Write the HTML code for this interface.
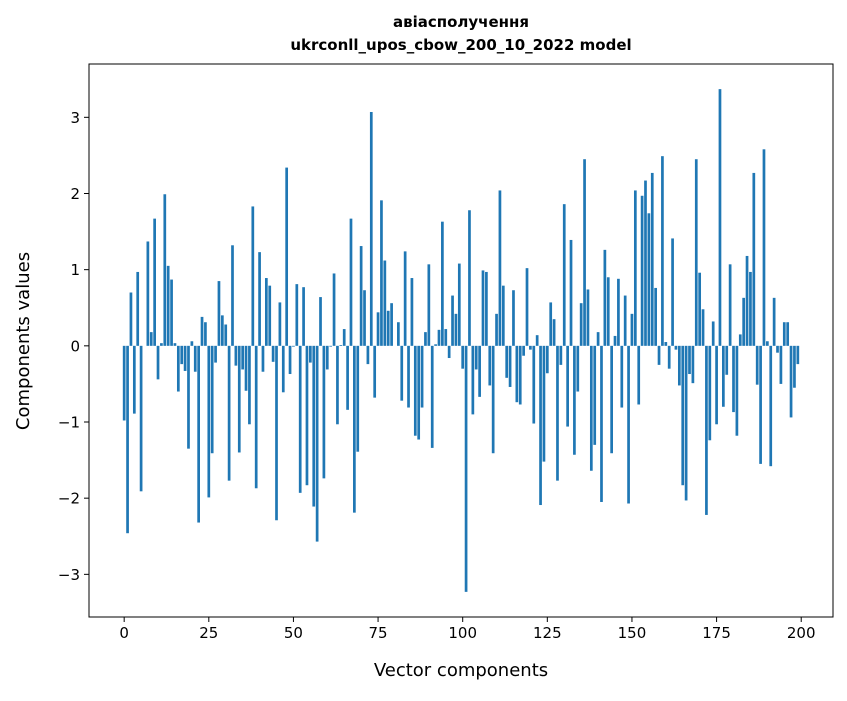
<!DOCTYPE html>
<html><head><meta charset="utf-8"><style>
body{margin:0;background:#fff;}
svg text{font-family:"DejaVu Sans","Liberation Sans",sans-serif;fill:#000;}
</style></head><body>
<svg id="chart" width="847" height="696" xmlns="http://www.w3.org/2000/svg">
<rect width="847" height="696" fill="#fff"/>
<text x="461" y="27" text-anchor="middle" font-size="15" font-weight="bold">авіасполучення</text>
<text x="461" y="50" text-anchor="middle" font-size="15" font-weight="bold">ukrconll_upos_cbow_200_10_2022 model</text>
<g id="bars"></g>
<g id="axes"></g>
<text x="461" y="676" text-anchor="middle" font-size="18">Vector components</text>
<text transform="translate(29,341) rotate(-90)" text-anchor="middle" font-size="18">Components values</text>
</svg>
<script>
const values = [-0.98,-2.46,0.70,-0.89,0.97,-1.91,0.0,1.37,0.18,1.67,
-0.44,0.035,1.99,1.05,0.87,0.035,-0.6,-0.24,-0.33,-1.35,
0.06,-0.34,-2.32,0.38,0.31,-1.99,-1.41,-0.22,0.85,0.40,
0.28,-1.77,1.32,-0.26,-1.40,-0.31,-0.59,-1.03,1.83,-1.87,
1.23,-0.34,0.89,0.79,-0.21,-2.29,0.57,-0.61,2.34,-0.37,
-0.01,0.81,-1.93,0.77,-1.83,-0.22,-2.11,-2.57,0.64,-1.74,
-0.31,-0.01,0.95,-1.03,0.01,0.22,-0.84,1.67,-2.19,-1.39,
1.31,0.73,-0.24,3.07,-0.68,0.44,1.91,1.12,0.46,0.56,
0.0,0.31,-0.72,1.24,-0.81,0.89,-1.18,-1.23,-0.81,0.18,
1.07,-1.34,0.02,0.21,1.63,0.22,-0.16,0.66,0.42,1.08,
-0.30,-3.23,1.78,-0.9,-0.31,-0.67,0.99,0.97,-0.52,-1.41,
0.42,2.04,0.79,-0.42,-0.54,0.73,-0.74,-0.77,-0.13,1.02,
-0.05,-1.02,0.14,-2.09,-1.52,-0.36,0.57,0.35,-1.77,-0.25,
1.86,-1.06,1.39,-1.43,-0.6,0.56,2.45,0.74,-1.64,-1.30,
0.18,-2.05,1.26,0.90,-1.41,0.13,0.88,-0.81,0.66,-2.07,
0.42,2.04,-0.77,1.97,2.17,1.74,2.27,0.76,-0.25,2.49,
0.05,-0.3,1.41,-0.05,-0.52,-1.83,-2.03,-0.37,-0.49,2.45,
0.96,0.48,-2.22,-1.24,0.32,-1.03,3.37,-0.80,-0.38,1.07,
-0.87,-1.18,0.15,0.63,1.18,0.97,2.27,-0.51,-1.55,2.58,
0.06,-1.58,0.63,-0.09,-0.5,0.31,0.31,-0.94,-0.55,-0.24];
const xTicks = [0,25,50,75,100,125,150,175,200];
const yTicks = [-3,-2,-1,0,1,2,3];

const NS="http://www.w3.org/2000/svg";
const L=89,R=833,T=64,B=617;
const n=values.length;
const xmin=-0.4-0.05*(n-1+0.8), xmax=(n-1)+0.4+0.05*(n-1+0.8);
const dmin=Math.min(0,...values), dmax=Math.max(0,...values);
const ymin=dmin-0.05*(dmax-dmin), ymax=dmax+0.05*(dmax-dmin);
const xs=v=>L+(v-xmin)/(xmax-xmin)*(R-L);
const ys=v=>B-(v-ymin)/(ymax-ymin)*(B-T);
const bars=document.getElementById('bars');
values.forEach((v,i)=>{
  const r=document.createElementNS(NS,'rect');
  const x0=xs(i-0.4),x1=xs(i+0.4);
  const y0=ys(Math.max(v,0)),y1=ys(Math.min(v,0));
  r.setAttribute('x',x0);r.setAttribute('width',x1-x0);
  r.setAttribute('y',y0);r.setAttribute('height',Math.max(y1-y0,0));
  r.setAttribute('fill','#1f77b4');
  
  
  bars.appendChild(r);
});
const ax=document.getElementById('axes');
function add(tag,attrs,txt){const e=document.createElementNS(NS,tag);for(const k in attrs)e.setAttribute(k,attrs[k]);if(txt!==undefined)e.textContent=txt;ax.appendChild(e);return e;}
const frame=add('rect',{x:L,y:T,width:R-L,height:B-T,fill:'none',stroke:'#000','stroke-width':1});


xTicks.forEach(t=>{
  const x=xs(t);
  const ln=add('line',{x1:x,x2:x,y1:B,y2:B+5,stroke:'#000'});
  
  
  const tx=add('text',{x:x,y:B+21,'text-anchor':'middle','font-size':'15'},String(t));
  
  
});
yTicks.forEach(t=>{
  const y=ys(t);
  const ln=add('line',{x1:L-5,x2:L,y1:y,y2:y,stroke:'#000'});
  
  
  const tx=add('text',{x:L-9,y:y+5.5,'text-anchor':'end','font-size':'15'},t<0?'\u2212'+Math.abs(t):String(t));
  
  
});
</script>
</body></html>
